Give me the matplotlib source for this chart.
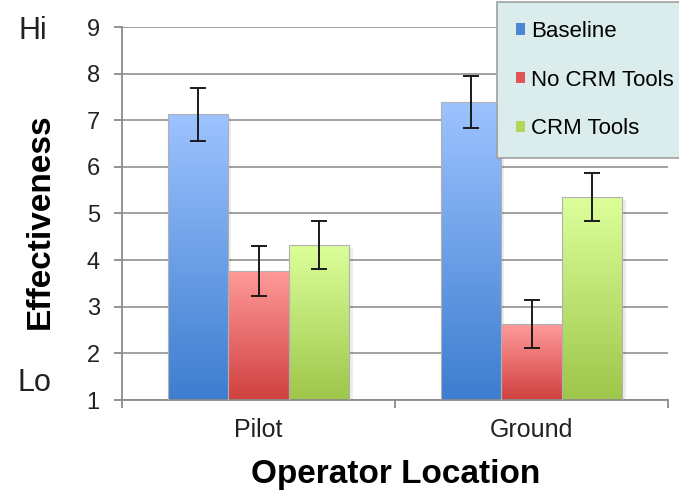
import numpy as np
import matplotlib
matplotlib.use('Agg')
import matplotlib.pyplot as plt
from matplotlib.colors import LinearSegmentedColormap
from matplotlib.patches import Patch

# Data
locations = ['Pilot', 'Ground']
series = ['Baseline', 'No CRM Tools', 'CRM Tools']
means = {
    'Baseline': [7.13, 7.39],
    'No CRM Tools': [3.77, 2.63],
    'CRM Tools': [4.33, 5.35],
}
errors = {
    'Baseline': [0.57, 0.55],
    'No CRM Tools': [0.53, 0.51],
    'CRM Tools': [0.51, 0.51],
}
# gradient colours: (top, bottom)
grad = {
    'Baseline': ('#9dc3ff', '#3d7dcf'),
    'No CRM Tools': ('#ff9b9a', '#d04040'),
    'CRM Tools': ('#ddff9b', '#9dc64a'),
}
legend_colors = {'Baseline': '#4a86d4', 'No CRM Tools': '#e05555', 'CRM Tools': '#b2d65a'}

plt.rcParams['font.family'] = ['Liberation Sans', 'DejaVu Sans']

fig = plt.figure(figsize=(6.79, 4.94), dpi=100)
ax = fig.add_axes([122 / 679, 94 / 494, 546 / 679, 373 / 494])

x = np.arange(len(locations))
width = 0.222
offsets = [-width, 0, width]

ax.set_xlim(-0.5, 1.5)
ax.set_ylim(1, 9)

for s, off in zip(series, offsets):
    top, bot = grad[s]
    cmap = LinearSegmentedColormap.from_list(s, [bot, top])
    bars = ax.bar(x + off, np.array(means[s]) - 1, width, bottom=1,
                  facecolor='none', edgecolor='#b0b0b0', linewidth=0.8, zorder=3)
    for b, v in zip(bars, means[s]):
        x0 = b.get_x()
        # soft shadow
        ax.bar(x0 + width / 2 + 0.012, v - 1, width, bottom=0.94, color='#000000',
               alpha=0.07, linewidth=0, zorder=2)
        g = np.linspace(0, 1, 256).reshape(-1, 1)
        im = ax.imshow(g, cmap=cmap, origin='lower', aspect='auto',
                       extent=[x0, x0 + width, 1, v], zorder=2.5)
        im.set_clip_path(b)
    ax.errorbar(x + off, means[s], yerr=errors[s], fmt='none', ecolor='#1a1a1a',
                elinewidth=1.4, capsize=6, capthick=1.4, zorder=4)

ax.set_yticks(range(1, 10))
ax.yaxis.grid(True, color='#9a9a9a', linewidth=1.3, zorder=1)
ax.set_axisbelow(True)

ax.set_xticks(x)
ax.set_xticklabels(locations, fontsize=18, color='#222222')
ax.set_xticks([-0.5, 0.5, 1.5], minor=True)
ax.tick_params(axis='x', which='major', length=0, pad=13)
ax.tick_params(axis='x', which='minor', length=6, color='#8a8a8a', width=1.3)
ax.tick_params(axis='y', length=6, color='#8a8a8a', width=1.3, labelsize=17,
               labelcolor='#222222', pad=10)

for side in ['top', 'right']:
    ax.spines[side].set_visible(False)
for side in ['left', 'bottom']:
    ax.spines[side].set_color('#8a8a8a')
    ax.spines[side].set_linewidth(1.3)

fig.text(40 / 679, 1 - 221 / 494, 'Effectiveness', rotation=90, fontsize=24,
         fontweight='bold', ha='center', va='center')
fig.text(396 / 679, 1 - 474 / 494, 'Operator Location', fontsize=24,
         fontweight='bold', ha='center', va='center')
fig.text(33 / 679, 1 - 31 / 494, 'Hi', fontsize=22, ha='center', va='center', color='#222222')
fig.text(34 / 679, 1 - 383 / 494, 'Lo', fontsize=22, ha='center', va='center', color='#222222')

handles = [Patch(facecolor=legend_colors[s], edgecolor='none') for s in series]
leg = fig.legend(handles, series, loc='upper left',
                 bbox_to_anchor=(497 / 679, 1 - 2 / 494), fontsize=16,
                 handlelength=0.4, handleheight=0.4, handletextpad=0.3,
                 labelspacing=1.25, borderpad=0.85, borderaxespad=0,
                 fancybox=False, framealpha=1)
leg.get_frame().set_facecolor('#daecec')
leg.get_frame().set_edgecolor('#a0a0a0')
leg.get_frame().set_linewidth(1.2)

fig.savefig('out.png', dpi=100)
